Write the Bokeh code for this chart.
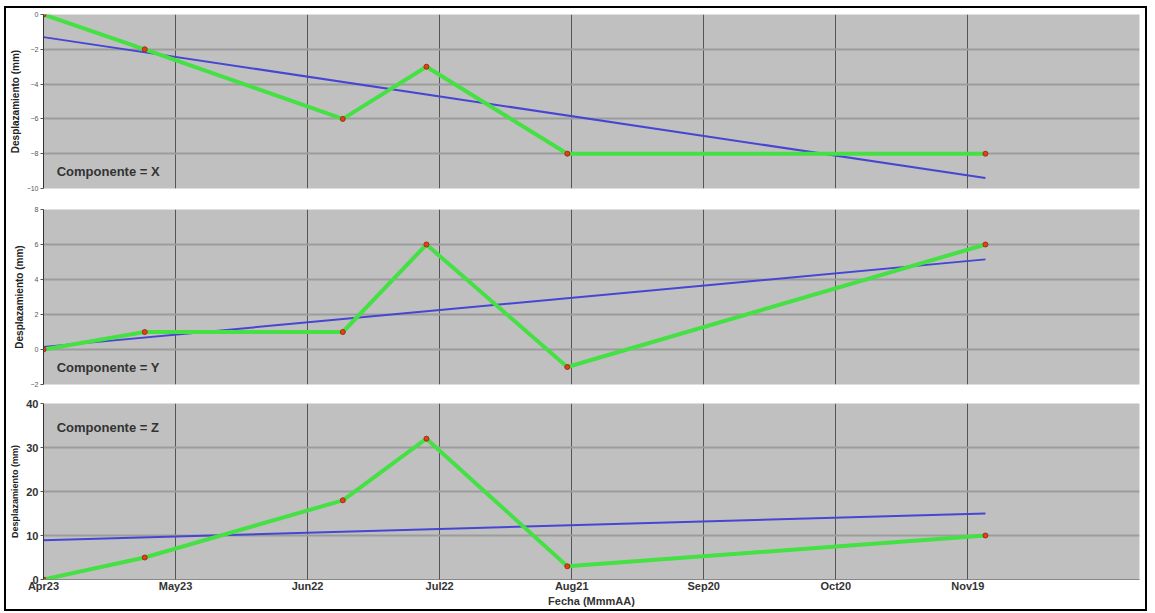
from datetime import datetime
from bokeh.plotting import figure
from bokeh.layouts import column
from bokeh.models import Range1d, FixedTicker, Label
from bokeh.embed import file_html
from bokeh.resources import INLINE

# ---------------- data ----------------
dates_str = ["2012-04-23", "2012-05-16", "2012-06-30", "2012-07-19", "2012-08-20", "2012-11-23"]
comp_x = [0, -2, -6, -3, -8, -8]
comp_y = [0, 1, 1, 6, -1, 6]
comp_z = [0, 5, 18, 32, 3, 10]
# linear trend (start, end) values
trend_x = [-1.3, -9.4]
trend_y = [0.15, 5.15]
trend_z = [8.9, 15.0]

tick_dates_str = ["2012-04-23", "2012-05-23", "2012-06-22", "2012-07-22",
                  "2012-08-21", "2012-09-20", "2012-10-20", "2012-11-19"]
tick_labels = ["Apr23", "May23", "Jun22", "Jul22", "Aug21", "Sep20", "Oct20", "Nov19"]
x_start, x_end = "2012-04-23", "2012-12-28"

yticks_x = [0, -2, -4, -6, -8, -10]
yticks_y = [-2, 0, 2, 4, 6, 8]
yticks_z = [0, 10, 20, 30, 40]
yrange_x = (-10, 0)
yrange_y = (-2, 8)
yrange_z = (0, 40)
labels = ["Componente = X", "Componente = Y", "Componente = Z"]

# ---------------- helpers ----------------
EPOCH = datetime(1970, 1, 1)
def ms(s):
    return (datetime.fromisoformat(s) - EPOCH).total_seconds() * 1000.0

dates = [datetime.fromisoformat(d) for d in dates_str]
trend_dates = [dates[0], dates[-1]]
tick_ms = [ms(s) for s in tick_dates_str]
overrides = {t: lab for t, lab in zip(tick_ms, tick_labels)}

x_range = Range1d(datetime.fromisoformat(x_start), datetime.fromisoformat(x_end))

FONT = "Liberation Sans"
W = 1139

def make_panel(vals, trend, yr, yticks, lab, lab_pos, height, top, bottom, is_bottom,
               tick_fs, tick_bold, ylab_fs):
    p = figure(width=W, height=height, x_axis_type="datetime", x_range=x_range,
               y_range=Range1d(*yr), output_backend="svg", toolbar_location=None,
               min_border_left=35, min_border_right=6, min_border_top=top,
               min_border_bottom=bottom)
    p.background_fill_color = "#c0c0c0"
    p.border_fill_color = "white"
    p.outline_line_color = None

    p.xaxis.ticker = FixedTicker(ticks=tick_ms)
    p.xaxis.major_label_overrides = overrides
    p.xgrid.grid_line_color = "#3a3a3a"
    p.xgrid.grid_line_width = 1
    p.xgrid.grid_line_alpha = 0.8
    p.ygrid.grid_line_color = "#9c9c9c"
    p.ygrid.grid_line_width = 2

    p.yaxis.ticker = FixedTicker(ticks=yticks)
    p.yaxis.axis_line_color = "#333333"
    p.yaxis.major_tick_line_color = "#555555"
    p.yaxis.major_tick_in = 0
    p.yaxis.major_tick_out = 3
    p.yaxis.minor_tick_line_color = None
    p.yaxis.major_label_text_font = FONT
    p.yaxis.major_label_text_font_size = tick_fs
    p.yaxis.major_label_text_font_style = "bold" if tick_bold else "normal"
    p.yaxis.major_label_text_color = "#333333" if tick_bold else "#555555"
    p.yaxis.major_label_standoff = 2
    p.yaxis.axis_label = "Desplazamiento (mm)"
    p.yaxis.axis_label_text_font = FONT
    p.yaxis.axis_label_text_font_size = ylab_fs
    p.yaxis.axis_label_text_font_style = "bold"
    p.yaxis.axis_label_text_color = "#222222"
    p.yaxis.axis_label_standoff = 3

    if is_bottom:
        p.xaxis.axis_line_color = "#888888"
        p.xaxis.major_tick_line_color = "#555555"
        p.xaxis.major_tick_in = 3
        p.xaxis.major_tick_out = 0
        p.xaxis.minor_tick_line_color = None
        p.xaxis.major_label_text_font = FONT
        p.xaxis.major_label_text_font_size = "11px"
        p.xaxis.major_label_text_font_style = "bold"
        p.xaxis.major_label_text_color = "#333333"
        p.xaxis.major_label_standoff = 0
        p.xaxis.axis_label = "Fecha (MmmAA)"
        p.xaxis.axis_label_text_font = FONT
        p.xaxis.axis_label_text_font_size = "11px"
        p.xaxis.axis_label_text_font_style = "bold"
        p.xaxis.axis_label_text_color = "#333333"
        p.xaxis.axis_label_standoff = 0
    else:
        p.xaxis.visible = False

    p.line(trend_dates, trend, line_color="#4646d2", line_width=2)
    p.line(dates, vals, line_color="#44e044", line_width=4)
    p.scatter(dates, vals, size=5, fill_color="#e0401e", line_color="#a03010", line_width=1)

    p.add_layout(Label(x=datetime.fromisoformat(lab_pos[0]), y=lab_pos[1], text=lab,
                       text_font=FONT, text_font_size="13px", text_font_style="bold",
                       text_color="#333333", text_baseline="middle"))
    return p

p1 = make_panel(comp_x, trend_x, yrange_x, yticks_x, labels[0], ("2012-04-26", -9.0),
                190, 6, 10, False, "7px", False, "10px")
p2 = make_panel(comp_y, trend_y, yrange_y, yticks_y, labels[1], ("2012-04-26", -1.0),
                195, 11, 9, False, "7px", False, "10px")
p3 = make_panel(comp_z, trend_z, yrange_z, yticks_z, labels[2], ("2012-04-26", 34.5),
                216, 10, 28, True, "11px", True, "9px")

layout = column(p1, p2, p3, spacing=0,
                styles={"border": "2px solid black", "margin-left": "4px", "margin-top": "6px"})

open("out.html", "w").write(file_html(layout, INLINE))
